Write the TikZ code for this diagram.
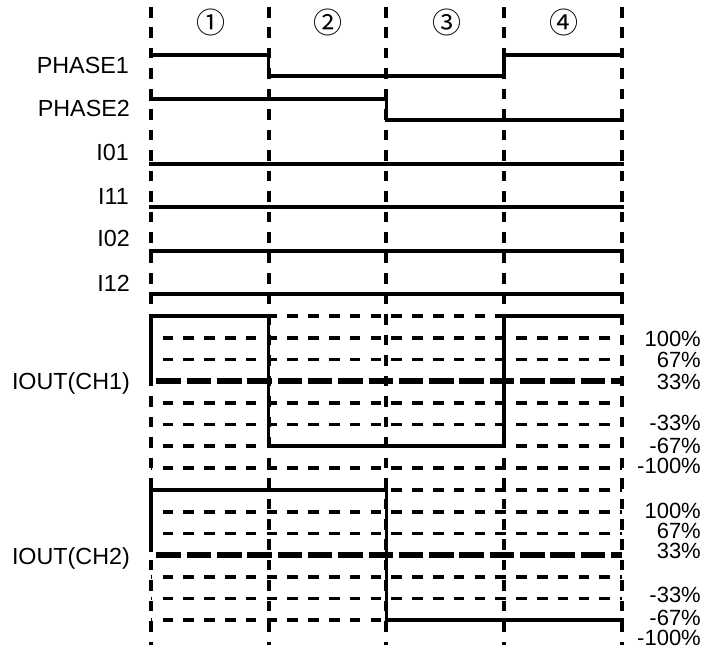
\documentclass[tikz,border=0pt]{standalone}
\usepackage{fontspec}
\setmainfont{Liberation Sans}
\newfontfamily\circfont{Noto Sans CJK JP}
\begin{document}
\begin{tikzpicture}[x=1pt,y=-1pt,
  wave/.style={line width=3.8pt},
  vgrid/.style={line width=4pt, dash pattern=on 10.5pt off 9.98pt},
  hgrid/.style={line width=3.6pt, dash pattern=on 10.5pt off 10.3pt, dash phase=8.8pt},
  hthick/.style={line width=5.8pt, dash pattern=on 24.5pt off 5.8pt, dash phase=24.5pt},
  lbl/.style={font=\fontsize{23.3}{23.3}\selectfont, anchor=base east, inner sep=0pt},
  pct/.style={font=\fontsize{22}{22}\selectfont, anchor=base east, inner sep=0pt},
  circ/.style={font=\circfont\fontsize{29}{29}\selectfont, inner sep=0pt}
]
\useasboundingbox (0,0) rectangle (706,654);
% column positions
\def\xa{150.6}\def\xb{268.5}\def\xc{386.4}\def\xd{504.3}\def\xe{622.2}
\def\xl{149}\def\xr{624}
% circled numbers
\node[circ] (n1) at (211,22.5) {①};
\node[circ] (n2) at (328,22.5) {②};
\node[circ] (n3) at (447,22.5) {③};
\node[circ] (n4) at (564,22.5) {④};
% left labels
\node[lbl] (lp1) at (129,65.5+8.3) {PHASE1};
\node[lbl] (lp2) at (130,108+8.3) {PHASE2};
\node[lbl] (li01) at (129,152+8.3) {I01};
\node[lbl] (li11) at (129,196+8.3) {I11};
\node[lbl] (li02) at (130,238.5+8.3) {I02};
\node[lbl] (li12) at (130,283+8.3) {I12};
\node[lbl] (lo1) at (130,381+8.3) {IOUT(CH1)};
\node[lbl] (lo2) at (130,556+8.3) {IOUT(CH2)};
% percent labels CH1
\node[pct] (a100) at (701,338+8) {100\%};
\node[pct] (a67) at (701,359+8) {67\%};
\node[pct] (a33) at (701,381+8) {33\%};
\node[pct] (am33) at (701,422+8) {-33\%};
\node[pct] (am67) at (701,445+8) {-67\%};
\node[pct] (am100) at (701,465+8) {-100\%};
% percent labels CH2
\node[pct] (b100) at (701,510.5+8) {100\%};
\node[pct] (b67) at (701,530.5+8) {67\%};
\node[pct] (b33) at (701,550.5+8) {33\%};
\node[pct] (bm33) at (701,594+8) {-33\%};
\node[pct] (bm67) at (701,617+8) {-67\%};
\node[pct] (bm100) at (701,637+8) {-100\%};
% CH1 grid
\foreach \k in {0,1,2,4,5,6,7}{
  \draw[hgrid] (\xa,316+21.7*\k) -- (\xe,316+21.7*\k);
}
\draw[hthick] (\xa,381.1) -- (\xe,381.1);
% CH2 grid
\foreach \k in {0,1,2,4,5,6}{
  \draw[hgrid] (\xa,490+21.7*\k) -- (\xe,490+21.7*\k);
}
\draw[hthick] (\xa,555.1) -- (\xe,555.1);
% vertical dashed lines
\foreach \x in {\xa,\xb,\xc,\xd,\xe}{
  \draw[vgrid] (\x,7) -- (\x,645);
}
% waveforms
\draw[wave] (\xl,55.3) -- (\xb,55.3) -- (\xb,76.2) -- (\xd,76.2) -- (\xd,55.3) -- (\xr,55.3);
\draw[wave] (\xl,98.7) -- (\xc,98.7) -- (\xc,120) -- (\xr,120);
\draw[wave] (\xl,164) -- (\xr,164);
\draw[wave] (\xl,207.3) -- (\xr,207.3);
\draw[wave] (\xl,251) -- (\xr,251);
\draw[wave] (\xl,294.3) -- (\xr,294.3);
\draw[wave] (\xa,378) -- (\xa,316) -- (\xb,316) -- (\xb,446.2) -- (\xd,446.2) -- (\xd,316) -- (\xr,316);
\draw[wave] (\xa,552) -- (\xa,490) -- (\xc,490) -- (\xc,620.2) -- (\xr,620.2);
\end{tikzpicture}
\end{document}
